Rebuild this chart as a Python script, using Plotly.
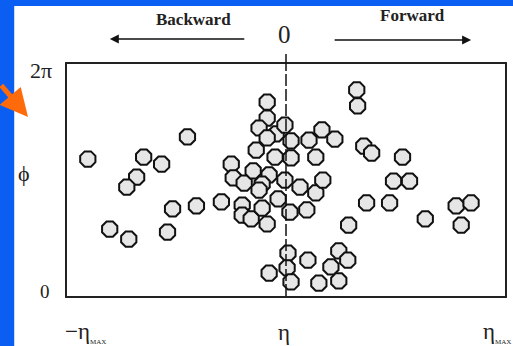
# ─────────────────────────────────────────
#  eta-phi event display (scatter of tracks)
# ─────────────────────────────────────────

import math
import plotly.graph_objects as go

# η in units of η_MAX, φ in radians
eta = [
    -0.905, -0.45, -0.65, -0.568, -0.682, -0.727, -0.805, -0.718, -0.541, -0.518,
    -0.409, -0.295, -0.25, -0.241, -0.191, -0.2, -0.2, -0.159, -0.086, -0.109,
    -0.077, -0.086, -0.086, -0.123, -0.136, -0.15, -0.077, -0.109, -0.045, -0.05,
    -0.036, -0.123, -0.086, -0.005, 0.023, 0.105, 0.164, 0.223, 0.023, 0.136,
    -0.005, 0.064, 0.136, 0.168, 0.018, 0.095, 0.286, 0.323, 0.327, 0.355,
    0.391, 0.532, 0.491, 0.564, 0.368, 0.473, 0.636, 0.777, 0.845, 0.8,
    0.009, 0.1, 0.005, 0.023, 0.15, 0.205, 0.241, 0.282, 0.241,
]
phi = [
    3.71, 4.31, 3.76, 3.57, 3.22, 2.95, 1.81, 1.54, 1.73, 2.36,
    2.44, 2.55, 3.57, 3.20, 3.06, 2.46, 2.19, 2.09, 1.95, 2.38,
    0.62, 5.25, 4.82, 4.55, 3.95, 3.39, 3.28, 3.03, 4.39, 3.76,
    2.63, 2.87, 4.28, 4.63, 4.20, 4.22, 4.50, 4.25, 3.74, 3.76,
    3.14, 2.95, 2.79, 3.14, 2.27, 2.33, 1.92, 5.58, 5.15, 4.06,
    3.87, 3.76, 3.11, 3.11, 2.52, 2.52, 2.09, 2.44, 2.52, 1.92,
    1.16, 0.97, 0.76, 0.38, 0.35, 0.79, 1.22, 0.97, 0.41,
]

FONT = "Liberation Serif"
TXT = "#222222"
BLUE = "#0b5ef2"
ORANGE = "#ff6a0a"

fig = go.Figure()

# ── Tracks ───────────────────────────────────────────
fig.add_trace(
    go.Scatter(
        x=eta,
        y=phi,
        mode="markers",
        marker=dict(symbol="octagon", size=16.5, color="#e6e6e6",
                    line=dict(color="#111111", width=2)),
        showlegend=False,
        hoverinfo="skip",
    )
)

# ── Shapes: frame strips + eta=0 line ────────────────
fig.add_shape(type="rect", xref="paper", yref="paper",
              x0=-0.16, x1=-0.1205, y0=-0.25, y1=1.30,
              fillcolor=BLUE, line_width=0, layer="below")
fig.add_shape(type="rect", xref="paper", yref="paper",
              x0=-0.16, x1=1.05, y0=1.25, y1=1.30,
              fillcolor=BLUE, line_width=0, layer="below")
fig.add_shape(type="line", xref="x", yref="paper", x0=0, x1=0, y0=0, y1=1,
              line=dict(color="#111111", width=1.5, dash="12px,3px"), layer="above")
fig.add_shape(type="line", xref="x", yref="paper", x0=0, x1=0, y0=1, y1=1.043,
              line=dict(color="#111111", width=1.5), layer="above")

# ── Text labels ──────────────────────────────────────
def label(text, x, y, size, xanchor="center", bold=False):
    if bold:
        text = f"<b>{text}</b>"
    fig.add_annotation(text=text, x=x, y=y, xref="paper", yref="paper",
                       xanchor=xanchor, yanchor="middle", showarrow=False,
                       font=dict(family=FONT, size=size, color=TXT))

sub = '<sub><span style="font-size:7px">MAX</span></sub>'
label("Backward", 0.2886, 1.1897, 17, bold=True)
label("Forward", 0.7886, 1.2112, 17, bold=True)
label("0", 0.4977, 1.1272, 25)
label("2π", -0.0295, 0.974, 22, xanchor="right")
label("0", -0.034, 0.0194, 19, xanchor="right")
label("ϕ", -0.0977, 0.530, 22)
label("−η" + sub, -0.009, -0.159, 23, xanchor="left")
label("η", 0.4955, -0.159, 23)
label("η" + sub, 0.945, -0.159, 23, xanchor="left")

# ── Arrows ───────────────────────────────────────────
for tip_x, tip_y, ax in [(0.0977, 1.1078, 136), (0.9227, 1.1034, -138)]:
    fig.add_annotation(x=tip_x, y=tip_y, xref="paper", yref="paper", text="",
                       showarrow=True, ax=ax, ay=0, arrowhead=2, arrowsize=1.2,
                       arrowwidth=1.5, arrowcolor="#111111")
fig.add_annotation(x=-0.089, y=0.772, xref="paper", yref="paper", text="",
                   showarrow=True, ax=-28, ay=-33, arrowhead=2, arrowsize=1.1,
                   arrowwidth=5, arrowcolor=ORANGE)

# ── Layout ───────────────────────────────────────────
fig.update_layout(
    width=513, height=346,
    paper_bgcolor="white",
    plot_bgcolor="white",
    margin=dict(l=67, r=6, t=64, b=50),
    font=dict(family=FONT, color=TXT),
    xaxis=dict(range=[-1, 1], showticklabels=False, showgrid=False, zeroline=False,
               showline=True, mirror=True, linecolor="#222222", linewidth=2,
               ticks="", fixedrange=True),
    yaxis=dict(range=[0, 2 * math.pi], showticklabels=False, showgrid=False,
               zeroline=False, showline=True, mirror=True, linecolor="#222222",
               linewidth=2, ticks="", fixedrange=True),
)

fig.write_html("out.html", config={"displayModeBar": False},
               post_script="document.body.style.margin='0';")
